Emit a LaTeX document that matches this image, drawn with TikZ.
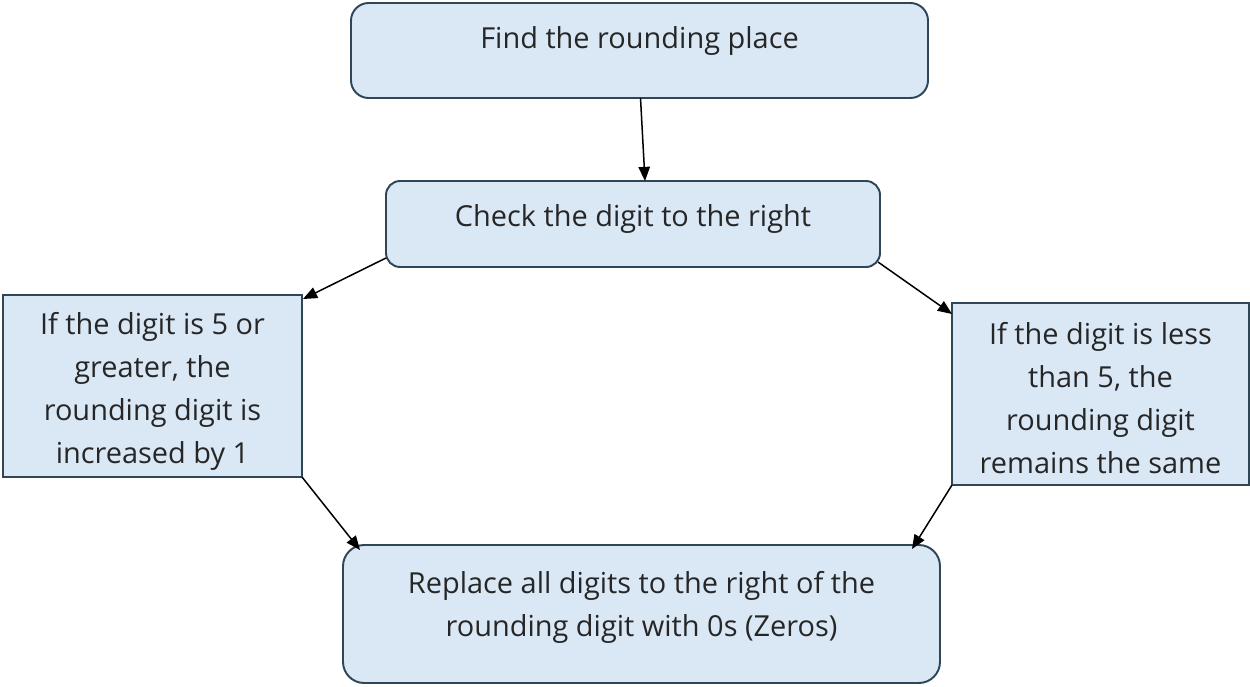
\documentclass[tikz,border=0pt]{standalone}
\usepackage{fontspec}
\setmainfont{Open Sans}
\usetikzlibrary{arrows.meta,calc}
\definecolor{boxfill}{HTML}{DAE8F6}
\definecolor{boxline}{HTML}{2E4656}
\definecolor{txt}{HTML}{262626}
\begin{document}
\begin{tikzpicture}[x=0.567pt,y=-0.567pt,
  box/.style={draw=boxline,fill=boxfill,line width=1.1pt,inner sep=0pt,outer sep=0pt},
  rbox/.style={box,rounded corners=#1},
  lbl/.style={text=txt,font=\fontsize{16.4}{24.4}\selectfont,align=center,inner sep=0pt},
  conn/.style={draw=black,line width=0.85pt,-{Triangle[length=8pt,width=6.5pt]}}]
\useasboundingbox (0,0) rectangle (1250,686);
\node[rbox=10pt,minimum width=577*0.567pt,minimum height=95*0.567pt] (A) at (639.5,50.5) {};
\node[rbox=8pt,minimum width=494*0.567pt,minimum height=86*0.567pt] (B) at (633,224) {};
\node[box,minimum width=299*0.567pt,minimum height=182*0.567pt] (C) at (152.5,386) {};
\node[box,minimum width=297*0.567pt,minimum height=182*0.567pt] (D) at (1100.5,394) {};
\node[rbox=12pt,minimum width=597*0.567pt,minimum height=138*0.567pt] (E) at (641.5,614) {};
\node[lbl,anchor=base] (tA) at (639.5,48) {Find the rounding place};
\node[lbl,anchor=base] (tB) at (633,226) {Check the digit to the right};
\node[lbl] (tC) at (152.5,391) {If the digit is 5 or\\greater, the\\rounding digit is\\increased by 1};
\node[lbl] (tD) at (1100.5,398) {If the digit is less\\than 5, the\\rounding digit\\remains the same};
\node[lbl] (tE) at (641.5,607) {Replace all digits to the right of the\\rounding digit with 0s (Zeros)};
\draw[conn] ($(A.south)+(1,0)$) -- ($(B.north)+(12,0)$);
\draw[conn] ($(B.west)+(0,34)$) -- ($(C.north east)+(1,4)$);
\draw[conn] ($(B.east)+(-2,38)$) -- ($(D.north west)+(0,11)$);
\draw[conn] (C.south east) -- ($(E.north west)+(17,5)$);
\draw[conn] (D.south west) -- ($(E.north east)+(-28,4)$);
\end{tikzpicture}
\end{document}
